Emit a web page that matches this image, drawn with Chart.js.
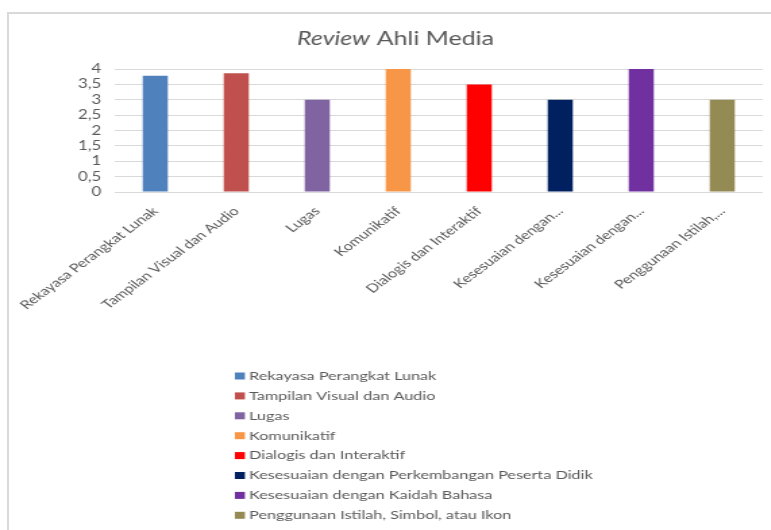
<!DOCTYPE html>
<html><head><meta charset="utf-8">
<script src="https://cdn.jsdelivr.net/npm/chart.js@4"></script>
<style>
html,body{margin:0;padding:0;background:#fff;width:771px;height:530px;overflow:hidden}
#frame{position:absolute;left:7px;top:12px;width:780px;height:540px;border-left:2px solid #d9d9d9;border-top:2px solid #d9d9d9;box-sizing:border-box}
#wrap{position:absolute;left:0;top:0;width:571px;height:530px;transform:scaleX(1.35);transform-origin:0 0}
</style></head><body>
<div id="frame"></div>
<div id="wrap"><canvas id="c"></canvas></div>
<script>
const categories = [
  "Rekayasa Perangkat Lunak",
  "Tampilan Visual dan Audio",
  "Lugas",
  "Komunikatif",
  "Dialogis dan Interaktif",
  "Kesesuaian dengan Perkembangan Peserta Didik",
  "Kesesuaian dengan Kaidah Bahasa",
  "Penggunaan Istilah, Simbol, atau Ikon"
];
const tickLabels = [
  "Rekayasa Perangkat Lunak",
  "Tampilan Visual dan Audio",
  "Lugas",
  "Komunikatif",
  "Dialogis dan Interaktif",
  "Kesesuaian dengan...",
  "Kesesuaian dengan...",
  "Penggunaan Istilah,..."
];
const values = [3.78, 3.86, 3, 4, 3.5, 3, 4, 3];
const colors = ["#4F81BD", "#C0504D", "#8064A2", "#F79646", "#FF0000", "#002060", "#7030A0", "#948A54"];
const titleItalic = "Review";
const titleRest = " Ahli Media";

const TEXT = "#595959";
const FONT = "Lato";

const titlePlugin = {
  id: 'mixedTitle',
  afterDraw(chart) {
    const ctx = chart.ctx;
    ctx.save();
    ctx.fillStyle = TEXT;
    ctx.textBaseline = 'middle';
    ctx.font = "italic 18.5px " + FONT;
    const w1 = ctx.measureText(titleItalic).width;
    ctx.font = "18.5px " + FONT;
    const w2 = ctx.measureText(titleRest).width;
    const cx = 293;
    let x = cx - (w1 + w2) / 2;
    const y = 39;
    ctx.textAlign = 'left';
    ctx.font = "italic 18.5px " + FONT;
    ctx.fillText(titleItalic, x, y);
    ctx.font = "18.5px " + FONT;
    ctx.fillText(titleRest, x + w1, y);
    ctx.restore();
  }
};

const legendPlugin = {
  id: 'listLegend',
  afterDraw(chart) {
    const ctx = chart.ctx;
    ctx.save();
    ctx.font = "12px " + FONT;
    ctx.textBaseline = 'middle';
    ctx.textAlign = 'left';
    const ds = chart.data.datasets[0];
    chart.data.labels.forEach((lab, i) => {
      const y = 376 + i * 19.9;
      ctx.fillStyle = ds.backgroundColor[i];
      ctx.fillRect(174, y - 3.5, 7.4, 7);
      ctx.fillStyle = TEXT;
      ctx.fillText(lab, 184.5, y);
    });
    ctx.restore();
  }
};

new Chart(document.getElementById('c'), {
  type: 'bar',
  data: {
    labels: categories,
    datasets: [{
      data: values,
      backgroundColor: colors,
      borderWidth: 0,
      barPercentage: 0.31,
      categoryPercentage: 1
    }]
  },
  plugins: [titlePlugin, legendPlugin],
  options: {
    responsive: true,
    maintainAspectRatio: false,
    animation: false,
    layout: { padding: { top: 69, left: 0, right: 6, bottom: 198 } },
    plugins: { legend: { display: false }, title: { display: false }, tooltip: { enabled: false } },
    scales: {
      x: {
        grid: { display: false },
        border: { display: false },
        afterFit(scale) { scale.height = 140; },
        ticks: {
          autoSkip: false,
          maxRotation: 45,
          minRotation: 45,
          padding: 4,
          color: TEXT,
          font: { family: FONT, size: 12 },
          callback: (v, i) => tickLabels[i]
        }
      },
      y: {
        min: 0,
        max: 4,
        afterFit(scale) { scale.width = 85; },
        grid: { color: "#d9d9d9", drawTicks: false, lineWidth: 1 },
        border: { display: false },
        ticks: {
          autoSkip: false,
          stepSize: 0.5,
          padding: 10,
          color: TEXT,
          font: { family: FONT, size: 12.5 },
          callback: v => String(v).replace('.', ',')
        }
      }
    }
  }
});
</script>
</body></html>
